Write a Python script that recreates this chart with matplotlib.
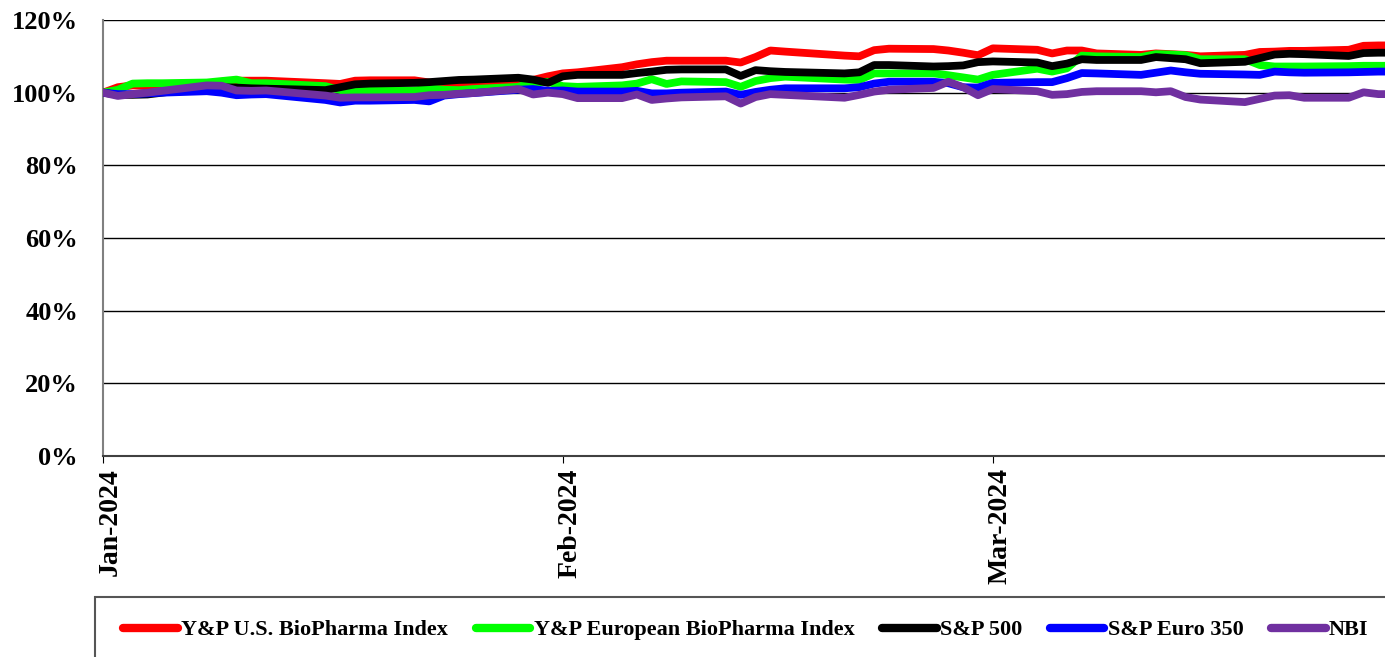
import numpy as np
import matplotlib
matplotlib.use("Agg")
import matplotlib.pyplot as plt
import matplotlib.dates as mdates
import matplotlib.transforms as mtransforms
from matplotlib.patches import Rectangle
from matplotlib.ticker import FuncFormatter

dates = ["2024-01-01", "2024-01-02", "2024-01-03", "2024-01-04", "2024-01-05",
         "2024-01-08", "2024-01-09", "2024-01-10", "2024-01-11", "2024-01-12",
         "2024-01-16", "2024-01-17", "2024-01-18", "2024-01-19",
         "2024-01-22", "2024-01-23", "2024-01-24", "2024-01-25", "2024-01-26",
         "2024-01-29", "2024-01-30", "2024-01-31", "2024-02-01", "2024-02-02",
         "2024-02-05", "2024-02-06", "2024-02-07", "2024-02-08", "2024-02-09",
         "2024-02-12", "2024-02-13", "2024-02-14", "2024-02-15", "2024-02-16",
         "2024-02-20", "2024-02-21", "2024-02-22", "2024-02-23",
         "2024-02-26", "2024-02-27", "2024-02-28", "2024-02-29", "2024-03-01",
         "2024-03-04", "2024-03-05", "2024-03-06", "2024-03-07", "2024-03-08",
         "2024-03-11", "2024-03-12", "2024-03-13", "2024-03-14", "2024-03-15",
         "2024-03-18", "2024-03-19", "2024-03-20", "2024-03-21", "2024-03-22",
         "2024-03-25", "2024-03-26", "2024-03-27", "2024-03-28"]

yp_us = [100, 101.5, 102, 101.8, 102, 102.5, 103, 103.3, 103.3, 103.3,
         102.6, 102.4, 103.3, 103.4, 103.4, 102.8, 102.6, 102.5, 102.6,
         102.7, 103.5, 104.5, 105.3, 105.6, 107, 107.8, 108.4, 108.8, 108.8,
         108.8, 108.3, 109.8, 111.6, 111.3, 110.2, 110, 111.7, 112.1,
         112, 111.6, 111, 110.3, 112.2, 111.8, 110.8, 111.6, 111.6, 110.8,
         110.4, 110.8, 110.6, 110.4, 110, 110.4, 111.2, 111.3, 111.5, 111.5,
         111.8, 112.9, 113, 113]

yp_eu = [100, 100.8, 102.5, 102.6, 102.6, 102.8, 103.2, 103.6, 102.6, 102.6,
         101.8, 100.7, 100.6, 100.6, 100.6, 101.2, 100.8, 100.7, 101,
         101.6, 102.8, 103, 101.8, 101.6, 102, 102.5, 103.7, 102.4, 103.1,
         102.9, 101.6, 103.2, 104, 104.4, 103.6, 103.5, 105.3, 105.3,
         105.3, 104.8, 104.2, 103.6, 104.9, 106.6, 105.8, 106.7, 110.2, 110,
         109.8, 110.6, 110.5, 110.3, 109.2, 109.2, 107.6, 107.2, 107.2, 107.2,
         107.3, 107.4, 107.4, 107.4]

sp500 = [100, 99.4, 99.4, 99.5, 100, 101.6, 101.5, 101.4, 101.2, 101.1,
         100.7, 101.5, 102.3, 102.5, 102.7, 102.9, 103.2, 103.5, 103.6,
         104.1, 103.6, 102.7, 104.5, 104.9, 104.9, 105.4, 105.8, 106.3, 106.4,
         106.4, 104.6, 106.2, 105.9, 105.7, 105.3, 105.6, 107.6, 107.6,
         107.2, 107.3, 107.5, 108.4, 108.6, 108.3, 107.3, 108, 109.2, 109,
         109, 109.8, 109.5, 109.2, 108.1, 108.5, 109.5, 110.5, 110.7, 110.6,
         110.1, 110.9, 111, 111]

sp_euro350 = [100, 99.6, 99.6, 99.8, 100, 100.4, 100, 99.3, 99.5, 99.6,
              98, 97.3, 97.8, 97.8, 98, 97.6, 99.2, 99.6, 99.9,
              100.8, 101, 100.5, 100.6, 100.3, 100.3, 100.5, 99.8, 99.8, 100,
              100.3, 99.4, 100.2, 100.8, 101.2, 101.2, 101.5, 102.5, 103,
              103, 102.6, 101.5, 101.4, 102.7, 102.9, 102.9, 104, 105.4, 105.3,
              104.9, 105.5, 106.1, 105.6, 105.2, 105, 104.9, 105.8, 105.6, 105.5,
              105.6, 105.7, 105.8, 105.8]

nbi = [100, 99.1, 99.6, 100, 100.5, 102, 101.9, 100.6, 100.5, 100.6,
       99.2, 98.6, 98.7, 98.7, 98.8, 99.3, 99.4, 99.7, 99.9,
       101, 99.5, 100, 99.6, 98.5, 98.5, 99.5, 98, 98.4, 98.7,
       99, 97, 98.8, 99.6, 99.4, 98.6, 99.4, 100.3, 100.8,
       101.3, 103, 101.5, 99.3, 101, 100.4, 99.4, 99.6, 100.2, 100.4,
       100.4, 100.1, 100.4, 98.8, 98.1, 97.4, 98.3, 99.2, 99.3, 98.6,
       98.6, 100.1, 99.6, 99.6]

series_names = ["Y&P U.S. BioPharma Index", "Y&P European BioPharma Index",
                "S&P 500", "S&P Euro 350", "NBI"]
series_colors = ["#FF0000", "#00FF00", "#000000", "#0000FF", "#7030A0"]
series_values = [yp_us, yp_eu, sp500, sp_euro350, nbi]

y_ticks = [0, 20, 40, 60, 80, 100, 120]

plt.rcParams['font.family'] = ['Liberation Serif', 'DejaVu Serif']
plt.rcParams['font.weight'] = 'bold'

W, H = 1385, 657
fig = plt.figure(figsize=(W / 100, H / 100), dpi=100)

x = np.array(dates, dtype="datetime64[D]")
x_start = np.datetime64("2024-01-01")
x_end = np.datetime64("2024-03-31")

left_px, top_px, bottom_px = 103, 20, 456
px_per_day = 14.83
right_px = left_px + (x_end - x_start).astype(int) * px_per_day
ax = fig.add_axes([left_px / W, (H - bottom_px) / H,
                   (right_px - left_px) / W, (bottom_px - top_px) / H])

for vals, name, col in zip(series_values, series_names, series_colors):
    ax.plot(x, vals, color=col, lw=5.6, label=name,
            solid_capstyle='round', solid_joinstyle='round', zorder=3)

ax.set_xlim(x_start, x_end)
ax.set_ylim(0, 120)
ax.set_yticks(y_ticks)
ax.yaxis.set_major_formatter(FuncFormatter(lambda v, p: f"{int(v)}%"))
ax.grid(axis='y', color='black', lw=1, zorder=1)
ax.xaxis.set_major_locator(mdates.MonthLocator())
ax.xaxis.set_major_formatter(mdates.DateFormatter('%b-%Y'))

ax.tick_params(axis='y', length=0, pad=18, labelsize=19)
ax.tick_params(axis='x', length=5, direction='out', pad=4, labelsize=20)
for lab in ax.get_xticklabels():
    lab.set_rotation(90)
    lab.set_fontweight('bold')
    lab.set_transform(lab.get_transform() +
                      mtransforms.ScaledTranslation(7 / 100, 0, fig.dpi_scale_trans))
for lab in ax.get_yticklabels():
    lab.set_fontweight('bold')

for s in ['top', 'right']:
    ax.spines[s].set_visible(False)
ax.spines['left'].set_color('#808080')
ax.spines['left'].set_linewidth(1.5)
ax.spines['bottom'].set_color('#404040')
ax.spines['bottom'].set_linewidth(1.5)

# legend box
rect = Rectangle((95 / W, -0.2), 2.0, (H - 597) / H + 0.2,
                 transform=fig.transFigure, facecolor='white',
                 edgecolor='#555555', lw=1.5, zorder=0)
fig.patches.append(rect)

handles, labels = ax.get_legend_handles_labels()
leg = fig.legend(handles, labels, loc='center', ncol=5,
                 bbox_to_anchor=(746 / W, (H - 630) / H),
                 frameon=False, prop={'family': 'Liberation Serif',
                                      'weight': 'bold', 'size': 16},
                 handlelength=2.45, handletextpad=0.15, columnspacing=1.25,
                 borderaxespad=0)
for lh in leg.get_lines():
    lh.set_solid_capstyle('round')
    lh.set_linewidth(6)

fig.savefig("out.png", dpi=100)
